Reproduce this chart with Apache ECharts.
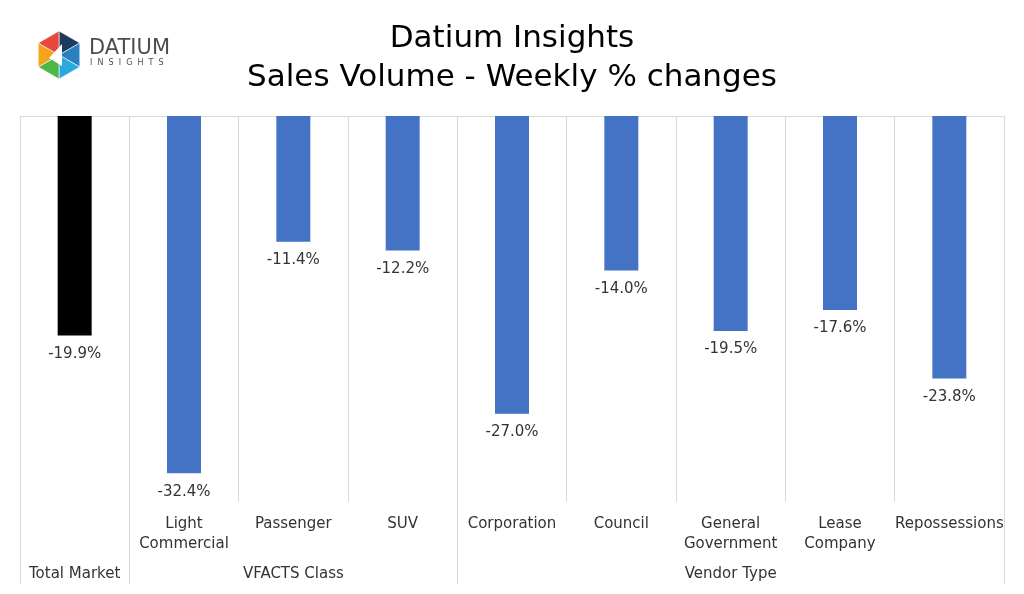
<!DOCTYPE html>
<html><head><meta charset="utf-8">
<script src="https://cdn.jsdelivr.net/npm/echarts@6/dist/echarts.min.js"></script>
<style>html,body{margin:0;padding:0;background:#fff}#c{width:1024px;height:594px}</style>
</head><body><div id="c"></div>
<script>
var categories = ['Total Market', 'Light\nCommercial', 'Passenger', 'SUV', 'Corporation', 'Council', 'General\nGovernment', 'Lease\nCompany', 'Repossessions'];
var categoryLabels = ['', 'Light\nCommercial', 'Passenger', 'SUV', 'Corporation', 'Council', 'General\nGovernment', 'Lease\nCompany', 'Repossessions'];
var groupLabels = ['Total Market', '', 'VFACTS Class', '', '', '', 'Vendor Type', '', ''];
var groupStarts = [0, 1, 4];
var values = [-19.9, -32.4, -11.4, -12.2, -27.0, -14.0, -19.5, -17.6, -23.8];
var barColors = ['#000000', '#4472c4', '#4472c4', '#4472c4', '#4472c4', '#4472c4', '#4472c4', '#4472c4', '#4472c4'];

var FONT = 'DejaVu Sans';
var chart = echarts.init(document.getElementById('c'), null, {renderer: 'canvas'});

// logo decoration
var cx = 59, cy = 55, r = 24;
var pts = [];
for (var i = 0; i < 6; i++) {
  var a = Math.PI / 180 * (-90 + 60 * i);
  pts.push([cx + r * Math.cos(a), cy + r * Math.sin(a)]);
}
var triColors = ['#1f3a5f', '#2a7fc0', '#29a9e0', '#4cb848', '#f7a21b', '#e8473e'];
var logo = [];
for (var j = 0; j < 6; j++) {
  logo.push({type: 'polygon', shape: {points: [[cx, cy], pts[j], pts[(j + 1) % 6]]},
    style: {fill: triColors[j], stroke: '#fff', lineWidth: 0.6}});
}
logo.push({type: 'polygon', shape: {points: [[cx + 3, cy - 11], [cx + 3, cy + 11], [cx - 10, cy + 3]]}, style: {fill: '#fff'}});
logo.push({type: 'text', left: 89, top: 38, style: {text: 'DATIUM', font: '21px ' + FONT, fill: '#4d4d4d'}});
logo.push({type: 'text', left: 90, top: 59, style: {text: 'I  N  S  I  G  H  T  S', font: '8px ' + FONT, fill: '#4d4d4d'}});

chart.setOption({
  animation: false,
  backgroundColor: '#ffffff',
  title: {
    text: 'Datium Insights\nSales Volume - Weekly % changes',
    left: 'center', top: 14,
    textStyle: {fontFamily: FONT, fontSize: 31, fontWeight: 'normal', color: '#000', lineHeight: 39}
  },
  graphic: logo,
  grid: {left: 20, right: 20, top: 116, bottom: 92, containLabel: false},
  xAxis: [
    {
      type: 'category', data: categoryLabels, position: 'bottom', gridIndex: 0,
      axisLine: {show: false}, axisTick: {show: false},
      splitLine: {show: true, interval: 0, lineStyle: {color: '#d9d9d9', width: 1}},
      axisLabel: {interval: 0, margin: 12, fontFamily: FONT, fontSize: 15, color: '#333333', lineHeight: 20, verticalAlign: 'top'}
    },
    {
      type: 'category', data: groupLabels, position: 'bottom', gridIndex: 0,
      axisLine: {show: false},
      axisTick: {show: true, length: 82, lineStyle: {color: '#d9d9d9', width: 1},
        interval: function (idx) { return groupStarts.indexOf(idx) >= 0; }},
      splitLine: {show: false},
      axisLabel: {interval: 0, margin: 65, fontFamily: FONT, fontSize: 15, color: '#333333', verticalAlign: 'top'}
    },
    {
      type: 'category', data: categories, position: 'top', gridIndex: 0,
      axisLine: {show: true, lineStyle: {color: '#d9d9d9', width: 1}},
      axisTick: {show: false}, axisLabel: {show: false}, splitLine: {show: false}
    }
  ],
  yAxis: {type: 'value', min: -35, max: 0, show: false, splitLine: {show: false}},
  series: [{
    type: 'bar', xAxisIndex: 0, barWidth: 34,
    data: values.map(function (v, i) { return {value: v, itemStyle: {color: barColors[i]}}; }),
    label: {
      show: true, position: 'bottom', distance: 11,
      fontFamily: FONT, fontSize: 15, color: '#333333',
      formatter: function (p) { return p.value.toFixed(1) + '%'; }
    }
  }]
});
</script></body></html>
